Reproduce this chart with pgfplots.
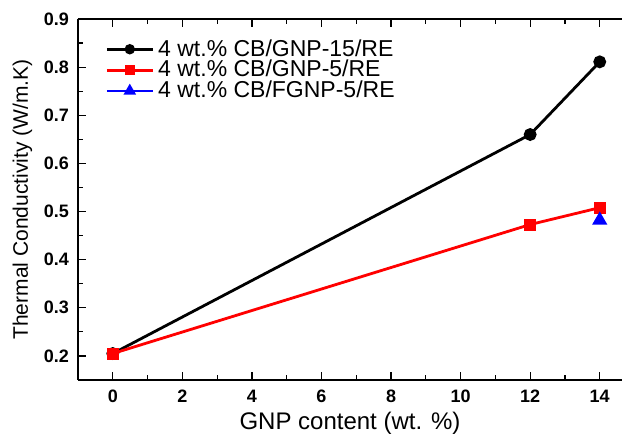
\documentclass[border=0pt]{standalone}
\usepackage{fontspec}
\setmainfont{Liberation Sans}
\usepackage{pgfplots}
\pgfplotsset{compat=1.18}
\usetikzlibrary{calc}
\begin{document}
\begin{tikzpicture}
\begin{axis}[
  scale only axis, width=272pt, height=180.5pt,
  xmin=-1, xmax=14.64, ymin=0.15, ymax=0.9,
  axis x line=box, axis y line=left,
  axis line style={-, line width=0.7pt},
  xtick={0,2,...,14}, minor x tick num=1,
  ytick={0.2,0.3,...,0.9}, minor y tick num=1,
  tick align=inside, major tick length=4pt, minor tick length=2.5pt,
  tick style={line width=0.6pt, black},
  /pgf/number format/assume math mode=true,
  ticklabel style={font=\fontsize{9}{9}\selectfont\bfseries},
  x tick label style={yshift=-1.5pt},
  y tick label style={xshift=-1pt, /pgf/number format/.cd, fixed, fixed zerofill, precision=1},
  xlabel={GNP content (wt. \%)},
  ylabel={Thermal Conductivity (W/m.K)},
  xlabel style={font=\fontsize{12}{13}\selectfont, at={(axis description cs:0.5,-0.119)}, anchor=center},
  ylabel style={font=\fontsize{10.5}{12}\selectfont, at={(axis description cs:-0.102,0.5)}, anchor=center},
  legend cell align=left,
  legend style={at={(axis description cs:0,1)}, anchor=north west,
    xshift=13.5pt, yshift=-8pt, draw=none, fill=none, inner sep=0pt,
    font=\fontsize{11.5}{12}\selectfont, row sep=-3.4pt},
  legend image code/.code={\draw[mark repeat=2, mark phase=2, mark options={scale=0.75}]
    plot coordinates {(0pt,0pt) (11.5pt,0pt) (23pt,0pt)};},
]
\addplot[black, line width=1.4pt, mark=*, mark size=2.5pt] coordinates {
  (0,0.205) (12,0.660) (14,0.811)};
\addlegendentry{4 wt.\% CB/GNP-15/RE}
\addplot[red, line width=1.4pt, mark=square*, mark size=2.3pt] coordinates {
  (0,0.205) (12,0.473) (14,0.508)};
\addlegendentry{4 wt.\% CB/GNP-5/RE}
\addplot[blue, line width=1.4pt, mark=triangle*, mark size=3pt] coordinates {
  (14,0.482)};
\addlegendentry{4 wt.\% CB/FGNP-5/RE}
\end{axis}
\pgfresetboundingbox
\path[use as bounding box] ($(current axis.south west)+(-39pt,-27pt)$)
  rectangle ($(current axis.north east)+(0pt,9.5pt)$);
\end{tikzpicture}
\end{document}
